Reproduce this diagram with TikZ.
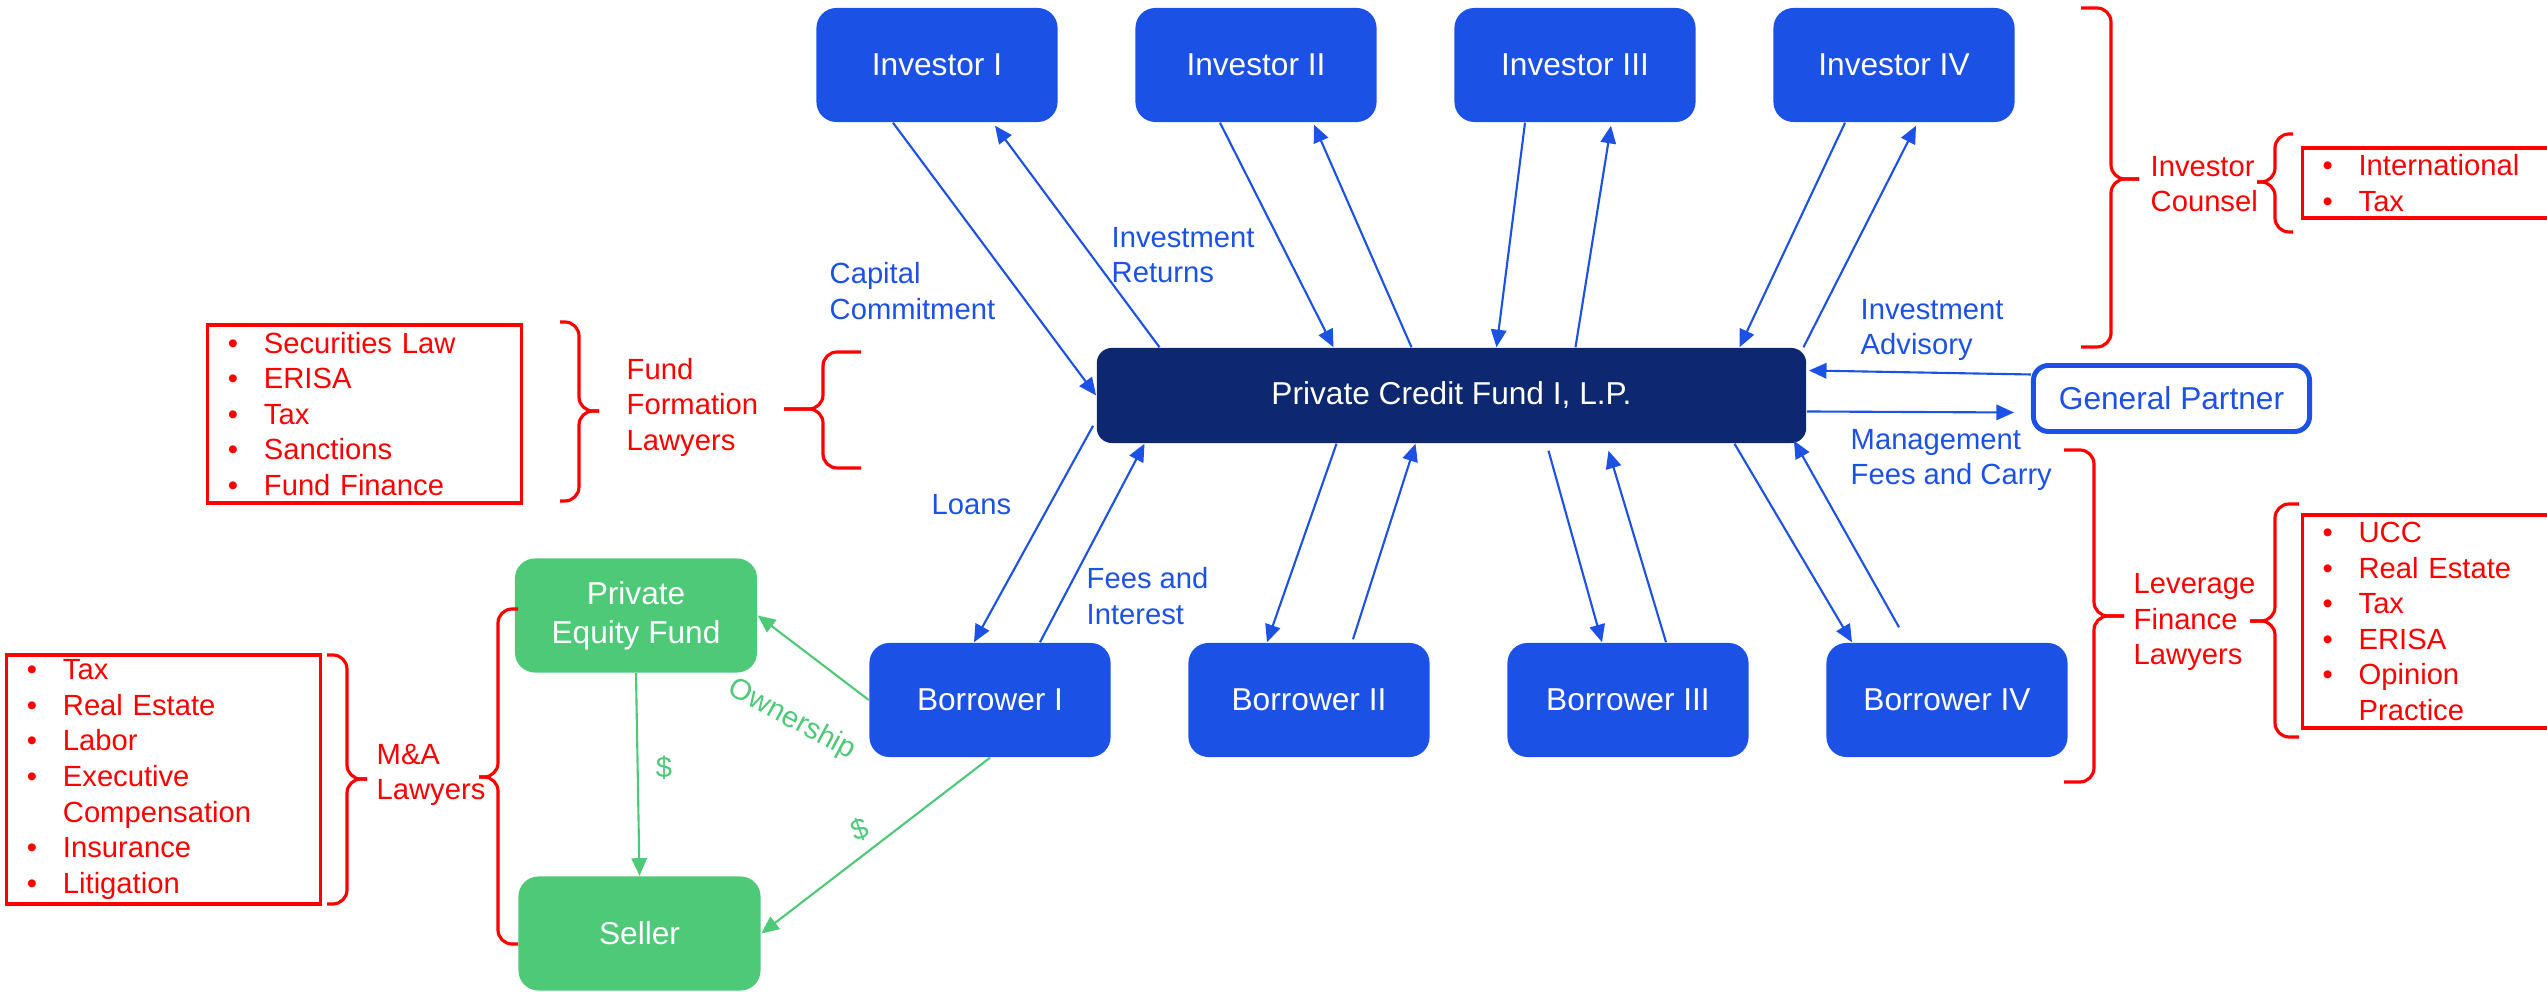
\documentclass[tikz,border=0pt]{standalone}
\usepackage{fontspec}
\setmainfont{Liberation Sans}
\usepackage{tikz}
\usetikzlibrary{calc,positioning}
\usetikzlibrary{arrows.meta}

\definecolor{invblue}{RGB}{28,81,229}
\definecolor{fundnavy}{RGB}{13,39,112}
\definecolor{dealgreen}{RGB}{77,201,120}
\definecolor{lawred}{RGB}{255,0,0}

\newcommand{\partyfont}{\fontsize{9}{11}\selectfont}
\newcommand{\notefont}{\fontsize{8.3}{10.1}\selectfont}
\newcommand{\li}{\makebox[0.36cm][l]{\textbullet}}
% brace: hook x, spine x, tip x, top y, middle y, bottom y
\newcommand{\lawbrace}[6]{%
  \draw[bracket] (#1,#4) -- (#2,#4) -- (#2,#5) -- (#3,#5);
  \draw[bracket] (#1,#6) -- (#2,#6) -- (#2,#5) -- (#3,#5);}

\tikzset{
  party/.style={rectangle, rounded corners=0.2cm, fill=invblue, text=white,
    minimum width=2.41cm, minimum height=1.14cm, font=\partyfont},
  fundbox/.style={rectangle, rounded corners=0.15cm, fill=fundnavy, text=white,
    minimum width=7.09cm, minimum height=0.95cm, font=\partyfont},
  gpbox/.style={rectangle, rounded corners=0.15cm, draw=invblue, line width=1.4pt,
    fill=white, text=invblue, minimum width=2.76cm, minimum height=0.66cm, font=\partyfont},
  dealbox/.style={rectangle, rounded corners=0.2cm, fill=dealgreen, text=white,
    minimum width=2.42cm, minimum height=1.14cm, font=\partyfont, align=center},
  flow/.style={draw=invblue, line width=0.6pt, -{Triangle[length=5pt,width=4.4pt]}},
  dealflow/.style={draw=dealgreen, line width=0.6pt, -{Triangle[length=5pt,width=4.4pt]}},
  flowlabel/.style={text=invblue, font=\notefont, align=left, anchor=west, inner sep=0pt},
  deallabel/.style={text=dealgreen, font=\notefont, inner sep=0pt},
  lawlabel/.style={text=lawred, font=\notefont, align=left, anchor=west, inner sep=0pt},
  lawlist/.style={rectangle, draw=lawred, line width=0.9pt, text=lawred, font=\notefont,
    align=left, text width=2.73cm, inner xsep=0.2cm, inner ysep=0pt},
  bracket/.style={draw=lawred, line width=0.9pt, rounded corners=4pt},
}

\begin{document}
\begin{tikzpicture}[x=0.01cm, y=-0.01cm]
  \useasboundingbox (0,0) rectangle (2547,992);

  % parties
  \foreach \i/\r in {1/I,2/II,3/III,4/IV}
    \node[party] (inv\i) at ({937+319*(\i-1)},65) {Investor \r};
  \foreach \i/\r in {1/I,2/II,3/III,4/IV}
    \node[party] (bor\i) at ({990+319*(\i-1)},700) {Borrower \r};
  \node[fundbox] (fund) at (1451.5,395.5) {Private Credit Fund I, L.P.};
  \node[gpbox] (gp) at (2171.5,398.5) {General Partner};
  \node[dealbox] (pef) at (636,615.5) {Private\\Equity Fund};
  \node[dealbox] (seller) at (639.5,933.5) {Seller};

  % investors
  \draw[flow] ($(inv1.south)+(-44,0)$) -- (fund.west);
  \draw[flow] ($(fund.north)+(-292,0)$) -- ($(inv1.south)+(58,3)$);
  \draw[flow] ($(inv2.south)+(-36,0)$) -- ($(fund.north)+(-118,0)$);
  \draw[flow] ($(fund.north)+(-40,0)$) -- ($(inv2.south)+(58,2)$);
  \draw[flow] ($(inv3.south)+(-50,0)$) -- ($(fund.north)+(45,0)$);
  \draw[flow] ($(fund.north)+(124,0)$) -- ($(inv3.south)+(36,3)$);
  \draw[flow] ($(inv4.south)+(-49,0)$) -- ($(fund.north)+(288,0)$);
  \draw[flow] ($(fund.north)+(352,0)$) -- ($(inv4.south)+(22,3)$);

  % borrowers
  \draw[flow] ($(fund.south west)+(-3,-18)$) -- ($(bor1.north)+(-16,0)$);
  \draw[flow] ($(bor1.north)+(50,0)$) -- ($(fund.south)+(-307,0)$);
  \draw[flow] ($(fund.south)+(-115,0)$) -- ($(bor2.north)+(-42,0)$);
  \draw[flow] ($(bor2.north)+(44,-3)$) -- ($(fund.south)+(-36,0)$);
  \draw[flow] ($(fund.south)+(97,7)$) -- ($(bor3.north)+(-26,0)$);
  \draw[flow] ($(bor3.north)+(38,0)$) -- ($(fund.south)+(157,7)$);
  \draw[flow] ($(fund.south)+(283,0)$) -- ($(bor4.north)+(-95,0)$);
  \draw[flow] ($(bor4.north)+(-48,-15)$) -- ($(fund.south east)+(-13,-3)$);

  % general partner
  \draw[flow] ($(gp.west)+(0,-24)$) -- ($(fund.east)+(2,-25)$);
  \draw[flow] ($(fund.east)+(0,16)$) -- ($(gp.west)+(-17,14)$);

  % deal side
  \draw[dealflow] (bor1.west) -- (pef.east);
  \draw[dealflow] (bor1.south) -- (seller.east);
  \draw[dealflow] (pef.south) -- (seller.north);
  \node[deallabel, rotate=-28] (own) at (792,720) {Ownership};
  \node[deallabel] (usd1) at (664,768) {\$};
  \node[deallabel, rotate=20] (usd2) at (860,830) {\$};

  % flow labels
  \node[flowlabel] (commit) at (829,291) {Capital\\Commitment};
  \node[flowlabel] (returns) at (1111,255) {Investment\\Returns};
  \node[flowlabel] (advisory) at (1860,330) {Investment\\Advisory};
  \node[flowlabel] (mgmt) at (1850,460) {Management\\Fees and Carry};
  \node[flowlabel] (loans) at (931,505) {Loans};
  \node[flowlabel] (interest) at (1086,596) {Fees and\\Interest};

  % lawyers
  \node[lawlabel] (fflaw) at (626,407) {Fund\\Formation\\Lawyers};
  \node[lawlabel] (invlaw) at (2150,184) {Investor\\Counsel};
  \node[lawlabel] (levlaw) at (2133,622) {Leverage\\Finance\\Lawyers};
  \node[lawlabel] (malaw) at (376,775) {M\&A\\Lawyers};

  \node[lawlist, minimum height=1.78cm] (fflist) at (364.5,414)
    {\li Securities Law\\\li ERISA\\\li Tax\\\li Sanctions\\\li Fund Finance};
  \node[lawlist, minimum height=2.49cm] (malist) at (163.5,779.5)
    {\li Tax\\\li Real Estate\\\li Labor\\\li Executive\\\hspace*{0.36cm}Compensation\\\li Insurance\\\li Litigation};
  \node[lawlist, minimum height=0.70cm, anchor=west] (invlist) at (2301,183)
    {\li International\\\li Tax};
  \node[lawlist, minimum height=2.13cm, anchor=west] (levlist) at (2301,621.5)
    {\li UCC\\\li Real Estate\\\li Tax\\\li ERISA\\\li Opinion\\\hspace*{0.36cm}Practice};

  \lawbrace{2081}{2111}{2139}{8}{179}{347}
  \lawbrace{2293}{2275}{2257}{134}{182}{232}
  \lawbrace{2064}{2094}{2124}{450}{616}{782}
  \lawbrace{2299}{2275}{2250}{504}{621}{737}
  \lawbrace{560}{579}{599}{322}{411}{501}
  \lawbrace{861}{823}{784}{352}{409}{468}
  \lawbrace{327}{347}{367}{655}{779}{904}
  \lawbrace{518}{498}{479}{609}{777}{944}
\end{tikzpicture}
\end{document}
